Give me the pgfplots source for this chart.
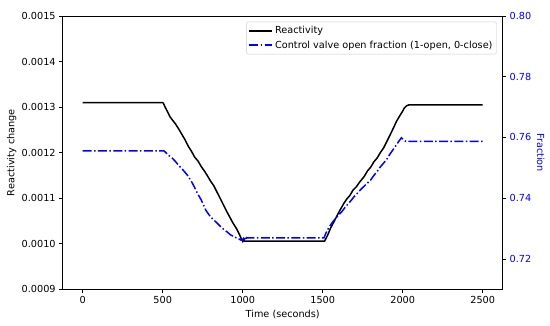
\documentclass[border=0pt]{standalone}
\usepackage{pgfplots}
\pgfplotsset{compat=1.18}
\usepackage{pgfplotstable}
\usepackage{fontspec}
\setmainfont{DejaVu Sans}
\definecolor{mplblue}{RGB}{0,0,255}
\definecolor{legedge}{RGB}{204,204,204}

\pgfplotstableread{
t r
0 0.001310
500 0.001310
505 0.001308
515 0.001300
530 0.001290
545 0.001279
560 0.001272
580 0.001263
600 0.001252
620 0.001240
640 0.001228
660 0.001214
680 0.001203
700 0.001190
720 0.001182
740 0.001170
760 0.001160
780 0.001149
800 0.001137
820 0.001127
840 0.001113
860 0.001099
880 0.001085
900 0.001071
920 0.001058
940 0.001045
960 0.001034
980 0.001020
990 0.001012
1000 0.001005
1005 0.001008
1010 0.001006
1512 0.001006
1530 0.001018
1550 0.001035
1570 0.001048
1590 0.001062
1610 0.001075
1633 0.001089
1650 0.001098
1670 0.001106
1690 0.001118
1710 0.001125
1730 0.001135
1758 0.001147
1780 0.001160
1800 0.001168
1820 0.001180
1840 0.001188
1860 0.001200
1880 0.001210
1900 0.001224
1920 0.001238
1946 0.001257
1960 0.001268
1980 0.001280
1998 0.001290
2010 0.001298
2025 0.001303
2040 0.001305
2500 0.001305
}\reactivity

\pgfplotstableread{
t f
0 0.7556
508 0.7556
520 0.7550
540 0.7540
560 0.7532
581 0.7520
600 0.7508
620 0.7497
640 0.7485
654 0.7476
680 0.7455
700 0.7435
717 0.7416
740 0.7395
760 0.7372
769 0.7361
790 0.7345
810 0.7333
842 0.7317
870 0.7302
900 0.7290
925 0.7279
950 0.7272
975 0.7266
990 0.7262
998 0.7262
1005 0.7268
1010 0.7264
1015 0.7273
1020 0.7262
1025 0.7270
1030 0.7269
1508 0.7269
1520 0.7285
1540 0.7305
1560 0.7320
1581 0.7334
1600 0.7345
1620 0.7356
1640 0.7370
1660 0.7382
1680 0.7394
1696 0.7405
1720 0.7418
1740 0.7430
1760 0.7440
1780 0.7450
1800 0.7460
1820 0.7475
1840 0.7488
1860 0.7503
1880 0.7515
1904 0.7531
1920 0.7545
1940 0.7560
1960 0.7575
1975 0.7587
1992 0.7599
2000 0.7595
2010 0.7590
2020 0.7587
2500 0.7587
}\fraction

\begin{document}
\begin{tikzpicture}[font=\fontsize{9.7}{11.6}\selectfont]
\pgfplotsset{
  common/.style={
    width=440pt, height=273.3pt, scale only axis,
    xmin=-125, xmax=2625,
    /pgf/number format/assume math mode=true,
    /pgf/number format/1000 sep={},
    tick align=outside, major tick length=3.5pt,
    every tick/.style={black, line width=0.8pt},
    axis line style={line width=0.8pt},
    every tick label/.append style={font=\fontsize{9.7}{11.6}\selectfont},
    label style={font=\fontsize{9.7}{11.6}\selectfont},
  }
}
\begin{axis}[common, name=ax,
  ymin=0.0009, ymax=0.0015,
  xtick={0,500,1000,1500,2000,2500},
  ytick={0.0009,0.0010,0.0011,0.0012,0.0013,0.0014,0.0015},
  xtick pos=lower, ytick pos=left,
  scaled y ticks=false,
  yticklabel style={/pgf/number format/fixed, /pgf/number format/precision=4, /pgf/number format/fixed zerofill},
  xlabel={Time (seconds)}, ylabel={Reactivity change},
  xlabel style={at={(axis description cs:0.5,-0.0915)}, anchor=center},
  ylabel style={at={(axis description cs:-0.1159,0.5)}, anchor=center},
]
\addplot[black, line width=1.5pt] table[x=t, y=r] {\reactivity};
\end{axis}
\begin{axis}[common,
  axis x line=none, axis y line*=right,
  ymin=0.71, ymax=0.80,
  ytick={0.72,0.74,0.76,0.78,0.80},
  ytick pos=right,
  yticklabel style={mplblue, /pgf/number format/fixed, /pgf/number format/precision=2, /pgf/number format/fixed zerofill},
  ylabel={Fraction},
  ylabel style={mplblue, at={(axis description cs:1.0864,0.5)}, anchor=center, rotate=180},
  legend style={at={(axis description cs:1,1)}, anchor=north east, xshift=-6pt, yshift=-5.7pt,
    draw=legedge, rounded corners=2pt, font=\fontsize{9.7}{11.6}\selectfont,
    inner xsep=2pt, inner ysep=2.5pt, row sep=1.5pt},
  legend cell align=left,
  legend image code/.code={\draw[#1] (0pt,0pt) -- (21pt,0pt); \path (0pt,0pt) -- (23pt,0pt);},
]
\addlegendimage{black, line width=1.5pt}
\addlegendentry{Reactivity}
\addplot[mplblue, line width=1.5pt, dash pattern=on 9pt off 2.4pt on 1.5pt off 2.4pt] table[x=t, y=f] {\fraction};
\addlegendentry{Control valve open fraction (1-open, 0-close)}
\end{axis}
\pgfresetboundingbox
\path[use as bounding box] ([xshift=-62.7pt,yshift=-36.7pt]ax.south west) rectangle ([xshift=47.3pt,yshift=16pt]ax.north east);
\end{tikzpicture}
\end{document}
